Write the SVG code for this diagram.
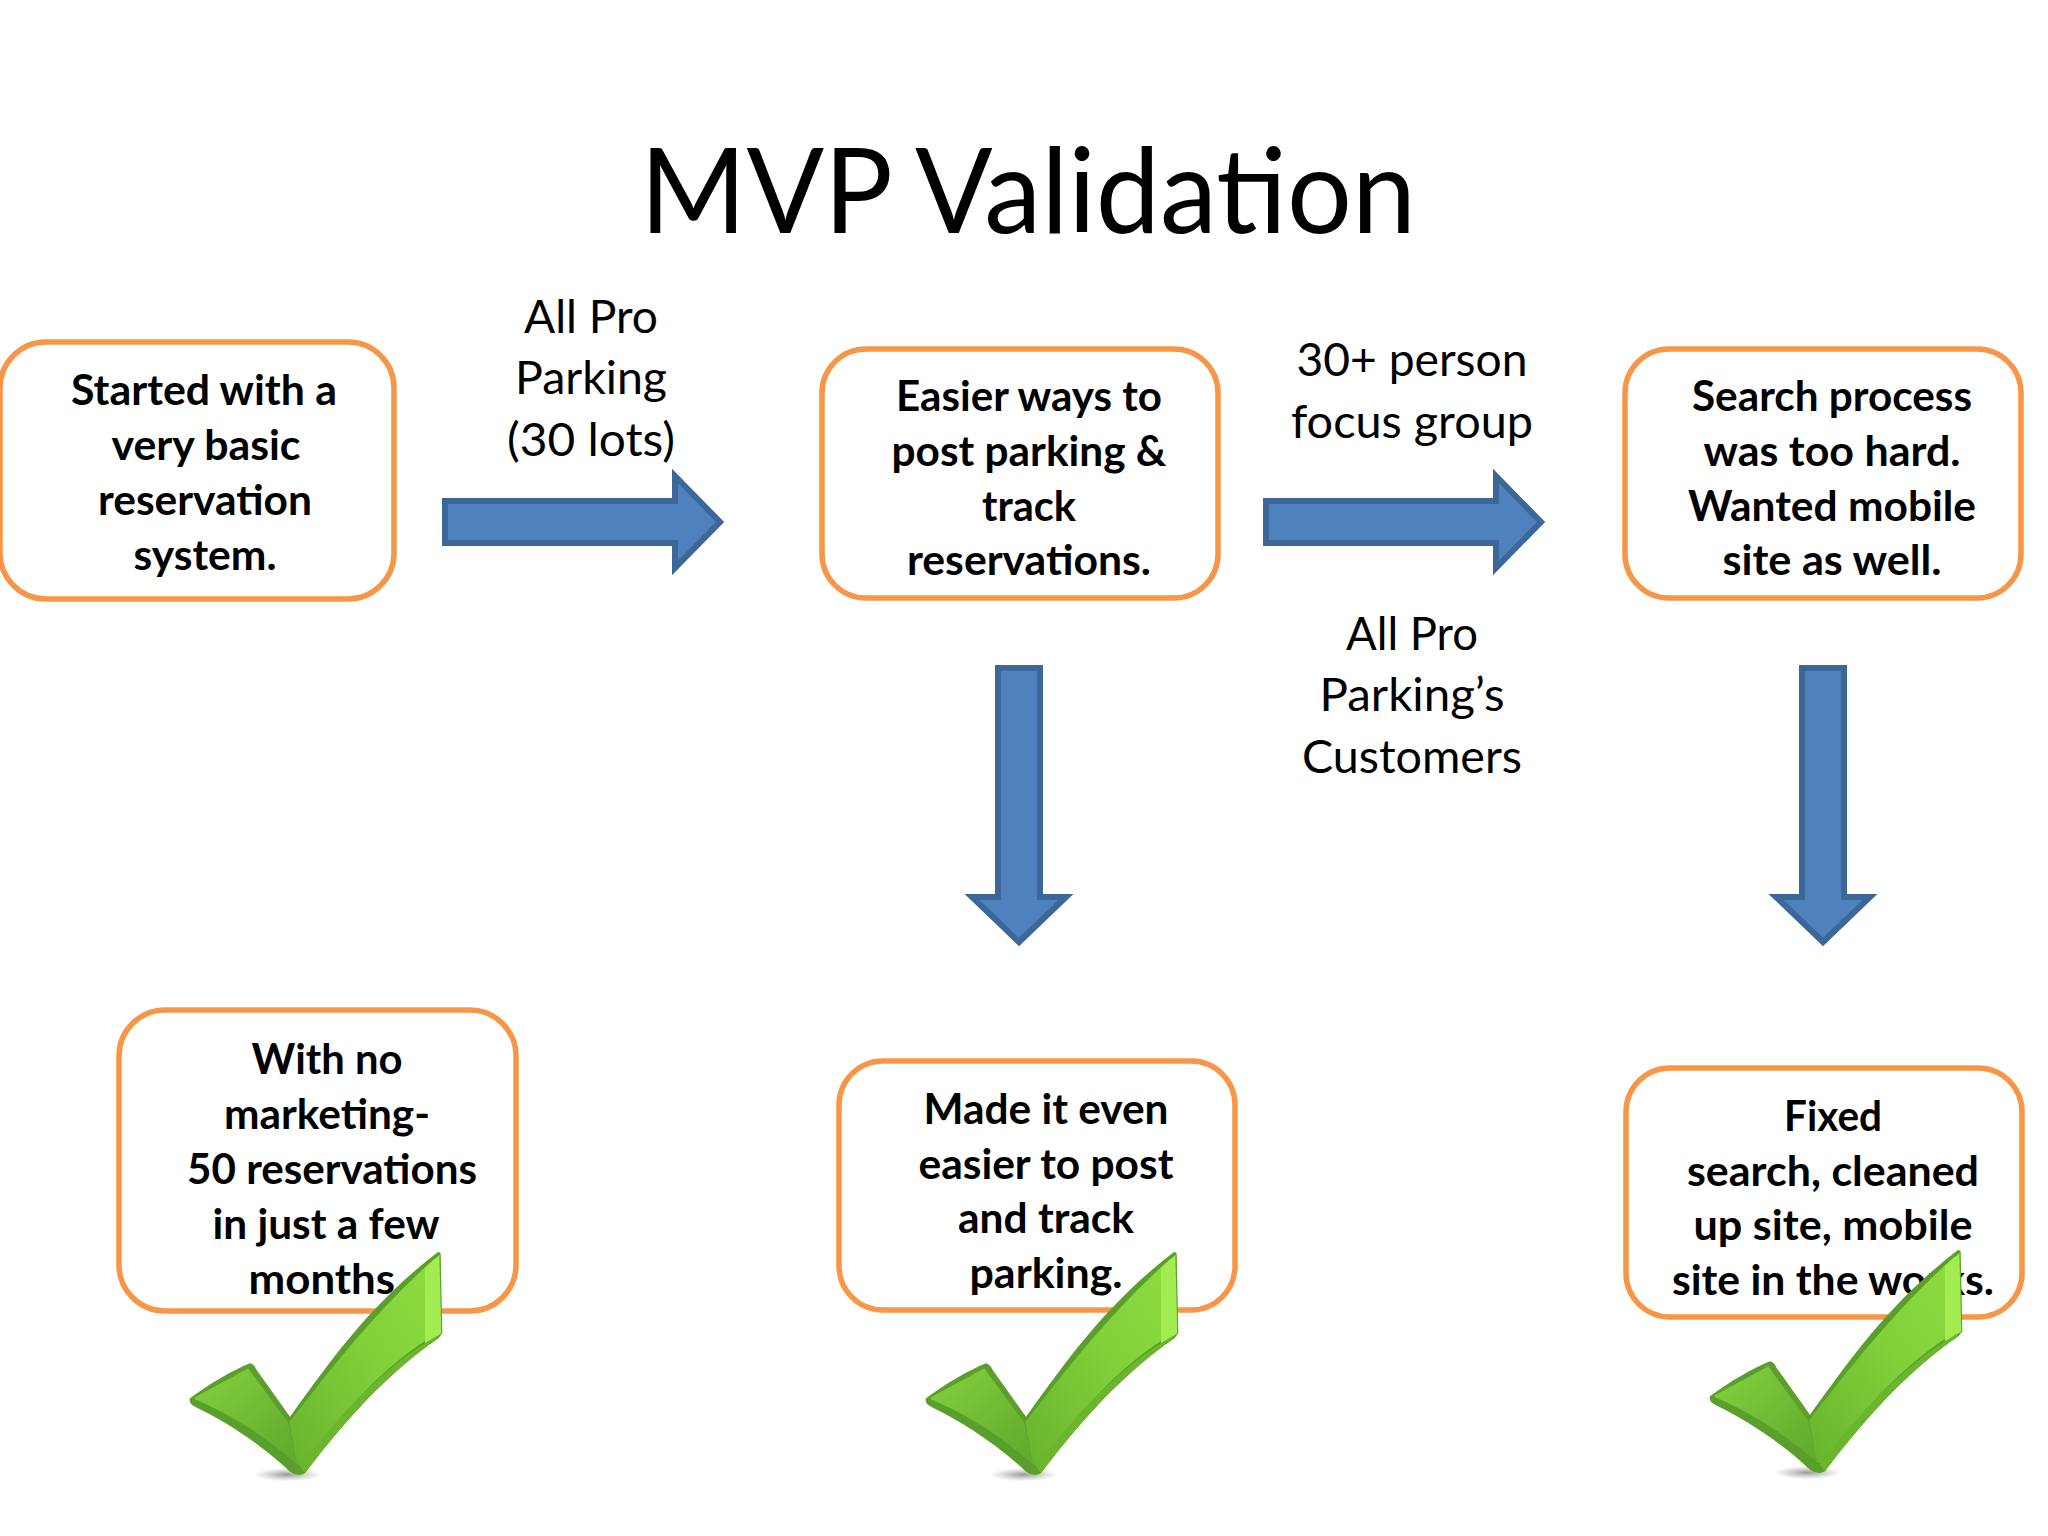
<svg xmlns="http://www.w3.org/2000/svg" width="2048" height="1536" viewBox="0 0 2048 1536">
<style>
.box{fill:#fff;stroke:#f79646;stroke-width:5.5}
.arrow{fill:#4f81bd;stroke:#3c6799;stroke-width:6;stroke-linejoin:miter}
text{font-family:"Lato","Liberation Sans",sans-serif;fill:#000;text-anchor:middle}
.b{font-weight:700;font-size:42px}
.r{font-size:47px}
.title{font-size:118px}
</style>
<defs>
<linearGradient id="armG" x1="0" y1="1" x2="1" y2="0"><stop offset="0" stop-color="#68b32d"/><stop offset=".55" stop-color="#82d03a"/><stop offset="1" stop-color="#8fdc40"/></linearGradient>
<linearGradient id="leftG" x1="0" y1="0" x2="1" y2="1"><stop offset="0" stop-color="#86d03f"/><stop offset="1" stop-color="#5fa82c"/></linearGradient>
<radialGradient id="shadowG"><stop offset="0" stop-color="#777" stop-opacity=".75"/><stop offset="1" stop-color="#999" stop-opacity="0"/></radialGradient>
<g id="check" transform="translate(100,1000) scale(.33333)">
<ellipse cx="562" cy="1424" rx="102" ry="20" fill="url(#shadowG)"/>
<path fill="#5a9f2b" d="M270,1195C330,1150 400,1110 450,1090Q462,1092 470,1110L570,1250C680,1100 800,920 1015,755L1022,760L1027,1000L1015,1015C860,1120 720,1280 615,1420Q595,1432 570,1415C480,1330 370,1260 285,1220Q265,1210 270,1195Z"/>
<path fill="url(#leftG)" d="M285,1192L445,1105L565,1268L590,1392C500,1312 390,1242 285,1198Z"/>
<path fill="#5c9f2a" d="M445,1105L468,1115L568,1252L565,1268Z"/>
<path fill="url(#armG)" d="M568,1266C690,1110 820,940 1005,775L1008,1002C860,1090 720,1240 612,1398L590,1392Z"/>
<path fill="#a2ec52" d="M975,805L1018,765L1024,1000L1008,1012L975,1030Z"/>
<path fill="#6bb52f" d="M600,1400C720,1240 860,1095 1010,1008L1015,1015C860,1120 720,1280 615,1420Z"/>
</g>
</defs>
<g id="title"><text class="title" x="1028" y="233" textLength="776" lengthAdjust="spacingAndGlyphs">MVP Validation</text></g>
<g id="connectors">
<path class="arrow" d="M445,501H675V476L720,522L675,568V543H445Z"/>
<path class="arrow" d="M1266,501H1496V476L1541,522L1496,568V543H1266Z"/>
<path class="arrow" d="M998,668H1040V897H1066L1019,942L972,897H998Z"/>
<path class="arrow" d="M1802,668H1844V897H1870L1823,942L1776,897H1802Z"/>
</g>
<g id="label-all-pro-30">
<text class="r" x="591" y="333" textLength="134" lengthAdjust="spacingAndGlyphs">All Pro</text>
<text class="r" x="591" y="394" textLength="152" lengthAdjust="spacingAndGlyphs">Parking</text>
<text class="r" x="591" y="456" textLength="168" lengthAdjust="spacingAndGlyphs">(30 lots)</text>
</g>
<g id="label-focus">
<text class="r" x="1412" y="376" textLength="231" lengthAdjust="spacingAndGlyphs">30+ person</text>
<text class="r" x="1412" y="438" textLength="242" lengthAdjust="spacingAndGlyphs">focus group</text>
</g>
<g id="label-customers">
<text class="r" x="1412" y="650" textLength="132" lengthAdjust="spacingAndGlyphs">All Pro</text>
<text class="r" x="1412" y="711" textLength="185" lengthAdjust="spacingAndGlyphs">Parking’s</text>
<text class="r" x="1412" y="773" textLength="220" lengthAdjust="spacingAndGlyphs">Customers</text>
</g>
<g id="node-started">
<rect class="box" x="0" y="342" width="394" height="257" rx="46"/>
<text class="b" x="204" y="405" textLength="266" lengthAdjust="spacingAndGlyphs">Started with a</text>
<text class="b" x="206" y="460" textLength="189" lengthAdjust="spacingAndGlyphs">very basic</text>
<text class="b" x="205" y="515" textLength="214" lengthAdjust="spacingAndGlyphs">reservation</text>
<text class="b" x="205" y="570" textLength="143" lengthAdjust="spacingAndGlyphs">system.</text>
</g>
<g id="node-easier">
<rect class="box" x="822" y="349" width="396" height="249" rx="44"/>
<text class="b" x="1029" y="411" textLength="266" lengthAdjust="spacingAndGlyphs">Easier ways to</text>
<text class="b" x="1029" y="466" textLength="275" lengthAdjust="spacingAndGlyphs">post parking &amp;</text>
<text class="b" x="1029" y="521" textLength="94" lengthAdjust="spacingAndGlyphs">track</text>
<text class="b" x="1029" y="575" textLength="244" lengthAdjust="spacingAndGlyphs">reservations.</text>
</g>
<g id="node-search">
<rect class="box" x="1625" y="349" width="396" height="249" rx="44"/>
<text class="b" x="1832" y="411" textLength="280" lengthAdjust="spacingAndGlyphs">Search process</text>
<text class="b" x="1832" y="466" textLength="257" lengthAdjust="spacingAndGlyphs">was too hard.</text>
<text class="b" x="1832" y="521" textLength="288" lengthAdjust="spacingAndGlyphs">Wanted mobile</text>
<text class="b" x="1832" y="575" textLength="219" lengthAdjust="spacingAndGlyphs">site as well.</text>
</g>
<g id="node-no-marketing">
<rect class="box" x="119" y="1010" width="397" height="301" rx="46"/>
<text class="b" x="327" y="1074" textLength="151" lengthAdjust="spacingAndGlyphs">With no</text>
<text class="b" x="327" y="1129" textLength="206" lengthAdjust="spacingAndGlyphs">marketing-</text>
<text class="b" x="332" y="1184" textLength="290" lengthAdjust="spacingAndGlyphs">50 reservations</text>
<text class="b" x="326" y="1239" textLength="227" lengthAdjust="spacingAndGlyphs">in just a few</text>
<text class="b" x="327" y="1294" textLength="157" lengthAdjust="spacingAndGlyphs">months.</text>
</g>
<g id="node-made-easier">
<rect class="box" x="839" y="1061" width="396" height="249" rx="44"/>
<text class="b" x="1046" y="1124" textLength="245" lengthAdjust="spacingAndGlyphs">Made it even</text>
<text class="b" x="1046" y="1179" textLength="255" lengthAdjust="spacingAndGlyphs">easier to post</text>
<text class="b" x="1046" y="1233" textLength="176" lengthAdjust="spacingAndGlyphs">and track</text>
<text class="b" x="1046" y="1288" textLength="153" lengthAdjust="spacingAndGlyphs">parking.</text>
</g>
<g id="node-fixed">
<rect class="box" x="1626" y="1068" width="396" height="249" rx="44"/>
<text class="b" x="1833" y="1131" textLength="98" lengthAdjust="spacingAndGlyphs">Fixed</text>
<text class="b" x="1833" y="1186" textLength="292" lengthAdjust="spacingAndGlyphs">search, cleaned</text>
<text class="b" x="1833" y="1240" textLength="279" lengthAdjust="spacingAndGlyphs">up site, mobile</text>
<text class="b" x="1833" y="1295" textLength="322" lengthAdjust="spacingAndGlyphs">site in the works.</text>
</g>
<g id="checks">
<use href="#check"/>
<use href="#check" x="736"/>
<use href="#check" x="1520" y="-2"/>
</g>
</svg>
